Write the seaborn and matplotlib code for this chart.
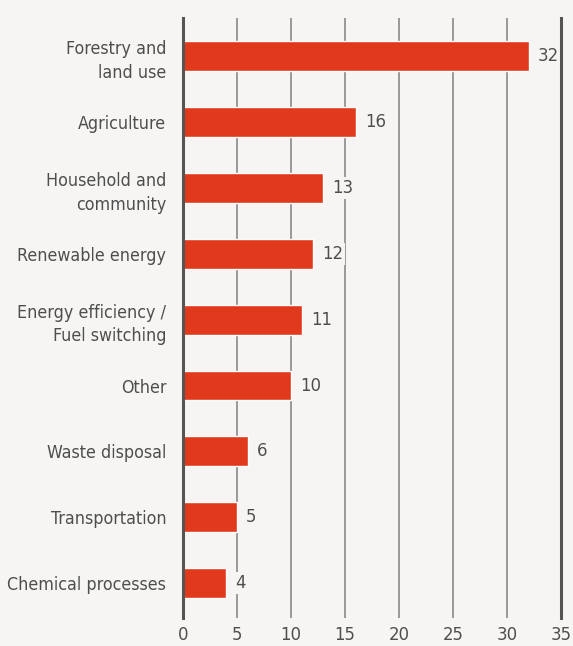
import matplotlib
matplotlib.use("Agg")
import matplotlib.pyplot as plt
import seaborn as sns
import pandas as pd
from matplotlib import font_manager

categories = [
    "Forestry and\nland use",
    "Agriculture",
    "Household and\ncommunity",
    "Renewable energy",
    "Energy efficiency /\nFuel switching",
    "Other",
    "Waste disposal",
    "Transportation",
    "Chemical processes",
]
values = [32, 16, 13, 12, 11, 10, 6, 5, 4]
x_ticks = [0, 5, 10, 15, 20, 25, 30, 35]

BG = "#f6f5f3"
BAR = "#e0391b"
TEXT = "#4e4e4e"

sns.set_theme(style="white")

# Prefer a condensed sans face for the labels when one is installed
condensed = None
for f in font_manager.fontManager.ttflist:
    narrow = ("condensed" in str(f.stretch).lower() and "ultra" not in str(f.stretch).lower()
              and "extra" not in str(f.stretch).lower()) or "Condensed" in f.name or "Narrow" in f.name
    if narrow and f.style == "normal" and f.weight in (400, "normal", "regular"):
        condensed = f
        break

if condensed is not None:
    plt.rcParams["font.family"] = [condensed.name, "DejaVu Sans"]
    plt.rcParams["font.stretch"] = condensed.stretch
    FS_CAT, FS = 12.8, 13.2
else:
    plt.rcParams["font.family"] = ["Roboto", "DejaVu Sans"]
    FS_CAT, FS = 10.2, 11.5

df = pd.DataFrame({"category": categories, "value": values})

fig = plt.figure(figsize=(5.73, 6.46), dpi=100, facecolor=BG)
ax = fig.add_axes([0.3194, 0.0433, 0.6597, 0.9289])
ax.set_facecolor(BG)

sns.barplot(data=df, x="value", y="category", color=BAR, width=0.455,
            saturation=1, ax=ax, zorder=3)

ax.set_xlim(0, 35)
ax.set_ylim(8.53, -0.58)
ax.set_xticks(x_ticks)
ax.set_xticklabels([str(t) for t in x_ticks])
for t in x_ticks[1:-1]:
    ax.axvline(t, color="#8a8a8a", lw=1.2, zorder=1)

for side in ["top", "bottom"]:
    ax.spines[side].set_visible(False)
for side in ["left", "right"]:
    ax.spines[side].set_color("#555555")
    ax.spines[side].set_linewidth(2.2)
    ax.spines[side].set_zorder(6)

ax.set_xlabel("")
ax.set_ylabel("")
ax.tick_params(axis="x", length=0, pad=6, labelsize=FS, labelcolor=TEXT)
ax.tick_params(axis="y", length=0, pad=12, labelsize=FS_CAT, labelcolor=TEXT)
for lab in ax.get_yticklabels():
    lab.set_linespacing(1.4)

for i, v in enumerate(values):
    ax.text(v + 0.85, i, str(v), va="center", ha="left", fontsize=FS, color=TEXT,
            zorder=5, bbox=dict(boxstyle="square,pad=0.1", fc=BG, ec="none"))

fig.savefig("out.png", dpi=100, facecolor=BG)
